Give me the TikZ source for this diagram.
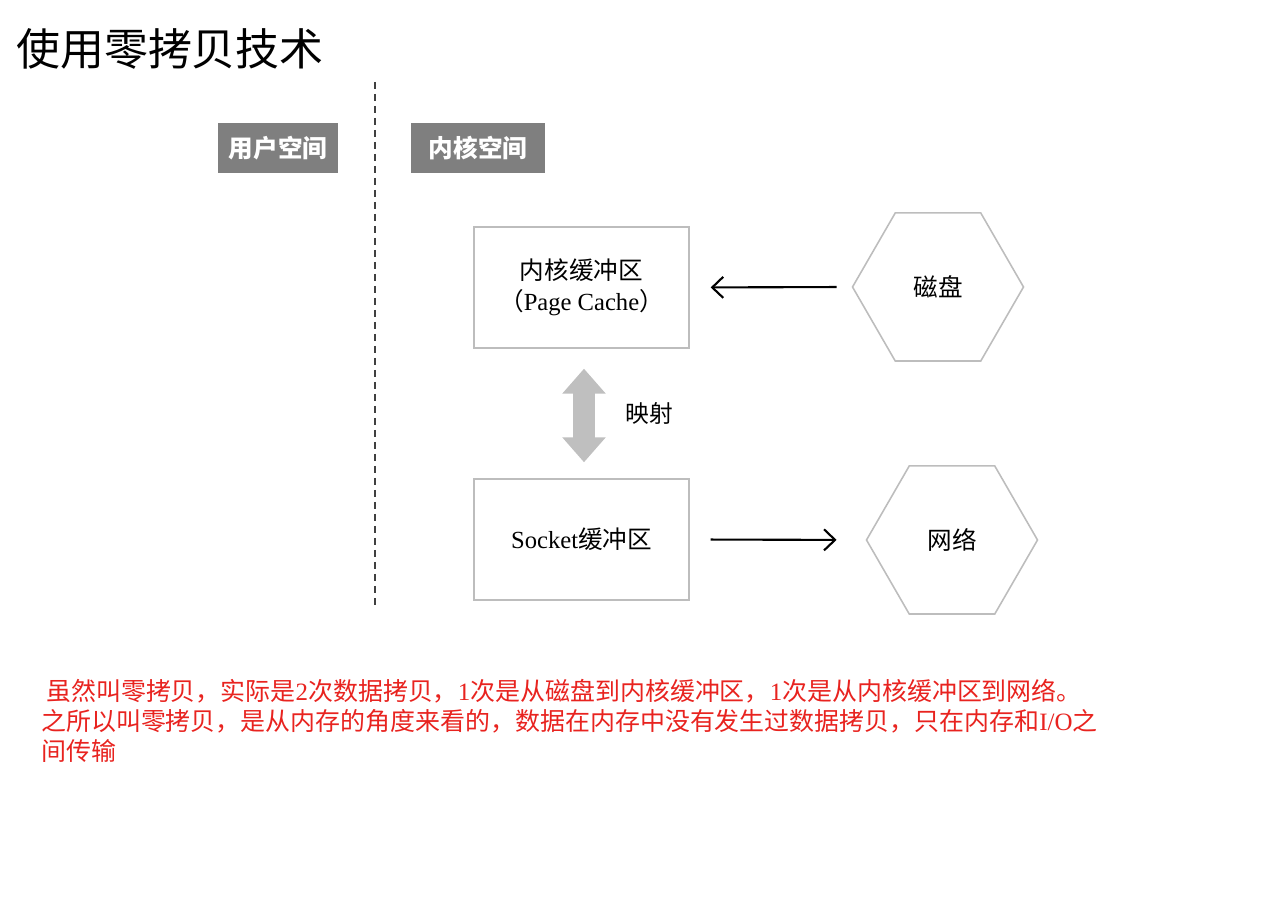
\documentclass[tikz,border=0pt]{standalone}
\usepackage{fontspec}
\newfontfamily\cjk{Noto Sans CJK SC}
\newfontfamily\lat{Liberation Serif}
\usepackage{xcolor}
\usepackage{tikz}
\usetikzlibrary{arrows.meta,calc,positioning,shapes.geometric}
\definecolor{tabgray}{HTML}{7F7F7F}
\definecolor{edgegray}{HTML}{BDBDBD}
\definecolor{mapgray}{HTML}{BFBFBF}
\definecolor{notered}{HTML}{E8231F}

\begin{document}
\begin{tikzpicture}[>={Straight Barb[length=0.22cm,width=0.42cm]},
  tab/.style={fill=tabgray,text=white,minimum width=2.4cm,minimum height=1cm,inner sep=0pt,font=\cjk\bfseries\fontsize{14}{16}\selectfont},
  buf/.style={draw=edgegray,line width=0.8pt,minimum width=4.3cm,minimum height=2.42cm,align=center,font=\cjk\fontsize{14}{17.6}\selectfont},
  dev/.style={draw=edgegray,line width=0.9pt,regular polygon,regular polygon sides=6,minimum size=3.42cm,inner sep=0pt,font=\cjk\fontsize{14}{16}\selectfont},
  flow/.style={->,line width=1.2pt}]
\useasboundingbox (0,0) rectangle (25.4,18.34);
\node[anchor=west,font=\cjk\fontsize{25}{30}\selectfont] (title) at (0.2,17.36) {使用零拷贝技术};
\draw[line width=1.1pt,black!75,dash pattern=on 0.14cm off 0.1cm] (7.5,16.7) -- (7.5,6.24);
\node[tab] (user) at (5.56,15.38) {用户空间};
\node[tab,minimum width=2.68cm] (kernel) at (9.56,15.38) {内核空间};
% buffers
\node[buf] (kbuf) at (11.63,12.59) {内核缓冲区\\（{\lat Page Cache}）};
\node[buf] (sbuf) at (11.63,7.55) {{\lat Socket}缓冲区};
% devices
\node[dev] (disk) at (18.76,12.6) {磁盘};
\node[dev] (net) at (19.04,7.54) {网络};
\draw[flow,shorten <=0.3cm,shorten >=0.42cm] (disk.west) -- (kbuf.east);
\draw[flow,shorten <=0.42cm,shorten >=0.58cm] (sbuf.east) -- (net.west);
\draw[mapgray,line width=0.44cm,{Triangle[length=0.5cm,width=0.84cm]}-{Triangle[length=0.5cm,width=0.84cm]},shorten <=0.4cm,shorten >=0.32cm]
  ([xshift=0.05cm]kbuf.south) -- ([xshift=0.05cm]sbuf.north)
  node[midway,anchor=west,xshift=0.5cm,text=black,font=\cjk\fontsize{13.5}{16}\selectfont] (map) {映射};
\node[anchor=north west,text=notered,align=left,font=\cjk\fontsize{14.2}{17.2}\selectfont] (note) at (0.7,4.88)
  {\hspace{0.1cm}虽然叫零拷贝，实际是{\lat 2}次数据拷贝，{\lat 1}次是从磁盘到内核缓冲区，{\lat 1}次是从内核缓冲区到网络。\\
   之所以叫零拷贝，是从内存的角度来看的，数据在内存中没有发生过数据拷贝，只在内存和{\lat I/O}之\\
   间传输};
\end{tikzpicture}
\end{document}
